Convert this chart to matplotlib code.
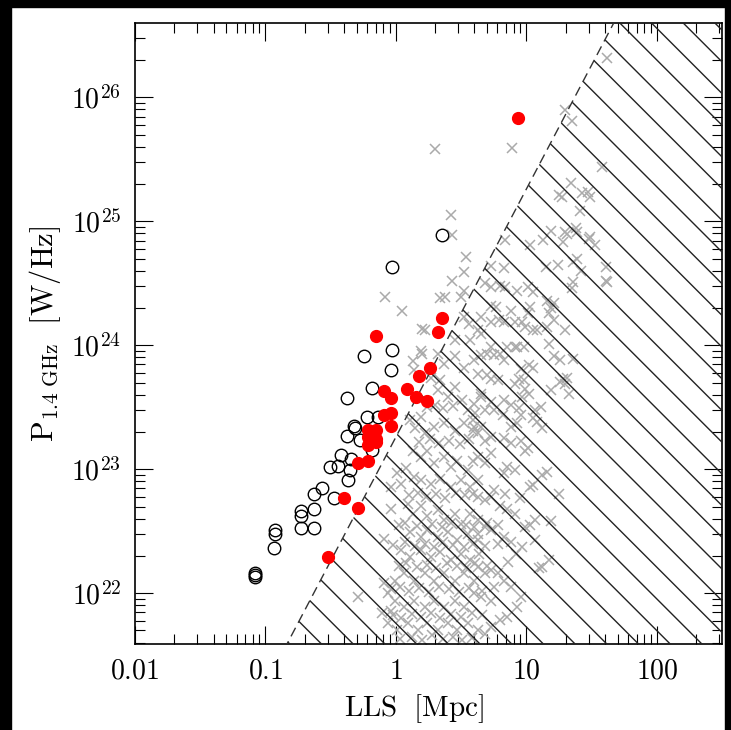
import numpy as np
import matplotlib.pyplot as plt
from matplotlib.patches import Polygon, Rectangle

plt.rcParams['mathtext.fontset'] = 'cm'
plt.rcParams['font.family'] = 'serif'
plt.rcParams['font.serif'] = ['DejaVu Serif']

# radio halos (filled red): LLS [Mpc], P_1.4GHz [W/Hz]
halo_lls = [8.69, 2.24, 2.12, 0.71, 1.82, 1.51, 1.21, 1.42, 1.72, 0.81,
            0.92, 0.81, 0.92, 0.91, 0.61, 0.70, 0.61, 0.70, 0.61, 0.70,
            0.51, 0.61, 0.40, 0.51, 0.30]
halo_p = [6.86e25, 1.67e24, 1.28e24, 1.19e24, 6.59e23, 5.62e23, 4.42e23, 3.83e23, 3.53e23, 4.26e23,
          3.74e23, 2.75e23, 2.86e23, 2.24e23, 2.06e23, 2.06e23, 1.81e23, 1.75e23, 1.56e23, 1.65e23,
          1.12e23, 1.17e23, 5.89e22, 4.86e22, 1.95e22]

# open circles
relic_lls = [2.24, 0.94, 0.93, 0.57, 0.92, 0.66, 0.42, 0.605, 0.73, 0.48,
             0.49, 0.42, 0.53, 0.66, 0.38, 0.45, 0.31, 0.36, 0.445, 0.43,
             0.27, 0.237, 0.337, 0.237, 0.188, 0.188, 0.188, 0.237, 0.118, 0.118,
             0.117, 0.0838, 0.0838, 0.0838]
relic_p = [7.71e24, 4.26e24, 9.2e23, 8.26e23, 6.37e23, 4.54e23, 3.79e23, 2.66e23, 2.66e23, 2.24e23,
           2.14e23, 1.86e23, 1.73e23, 1.42e23, 1.30e23, 1.22e23, 1.04e23, 1.06e23, 9.87e22, 8.15e22,
           7.03e22, 6.29e22, 5.87e22, 4.82e22, 4.58e22, 4.18e22, 3.36e22, 3.36e22, 3.25e22, 3.02e22,
           2.33e22, 1.46e22, 1.40e22, 1.34e22]

# grey crosses, (log10 LLS, log10 P)
cross_log = np.array([
    (1.62, 26.32), (1.30, 25.90), (1.35, 25.81), (0.89, 25.59), (0.30, 25.58), (1.58, 25.44),
    (1.34, 25.31), (1.25, 25.21), (1.27, 25.20), (1.43, 25.23), (1.47, 25.24), (1.49, 25.20),
    (1.41, 25.08), (0.42, 25.05), (0.43, 24.89), (1.19, 24.92), (1.30, 24.91), (1.31, 24.90),
    (1.38, 24.95), (1.39, 24.91), (1.49, 24.87), (1.53, 24.81), (1.48, 24.86), (1.13, 24.85),
    (1.03, 24.81), (0.84, 24.85), (1.28, 24.83), (0.54, 24.71), (0.52, 24.59), (0.43, 24.52),
    (0.73, 24.64), (0.83, 24.62), (1.15, 24.63), (1.24, 24.65), (1.36, 24.67), (1.42, 24.60),
    (1.61, 24.63), (1.39, 24.70), (1.61, 24.52), (1.62, 24.51), (1.36, 24.51), (1.35, 24.46),
    (0.34, 24.38), (0.38, 24.39), (0.50, 24.39), (0.52, 24.44), (-0.08, 24.39), (0.05, 24.28),
    (0.20, 24.13), (0.19, 23.95), (0.68, 24.50), (0.73, 24.47), (0.80, 24.48), (0.84, 24.47),
    (0.93, 24.44), (1.01, 24.47), (1.05, 24.43), (1.16, 24.36), (1.21, 24.34), (1.19, 24.30),
    (1.17, 24.26), (1.03, 24.31), (1.01, 24.26), (0.88, 24.28), (0.73, 24.32), (0.77, 24.31),
    (0.79, 24.20), (0.83, 24.19), (0.91, 24.19), (0.97, 24.19), (0.99, 24.15), (1.05, 24.12),
    (1.08, 24.12), (1.16, 24.15), (1.21, 24.20), (1.30, 24.12), (0.65, 24.23), (0.73, 24.19),
    (0.65, 24.09), (0.63, 24.12), (0.57, 24.04), (0.52, 24.23), (0.56, 24.17), (0.45, 24.04),
    (0.73, 23.99), (0.85, 23.99), (0.91, 23.99), (0.98, 23.99), (0.70, 23.93), (0.80, 23.93),
    (0.22, 24.12),
    (1.17, 24.01), (0.93, 23.99), (1.21, 23.91), (1.26, 23.88), (1.36, 23.89), (1.02, 23.84),
    (1.05, 23.82), (0.96, 23.81), (0.83, 23.88), (0.75, 23.92), (0.65, 23.92), (1.28, 23.73),
    (1.31, 23.74), (1.30, 23.69), (1.26, 23.70), (1.33, 23.61), (1.19, 23.64), (0.94, 23.73),
    (0.98, 23.72), (0.91, 23.69), (0.78, 23.72), (0.73, 23.73), (0.70, 23.76), (0.63, 23.77),
    (0.99, 23.65), (1.02, 23.61), (0.97, 23.58), (0.83, 23.56), (0.73, 23.54), (0.65, 23.58),
    (1.11, 23.50), (1.07, 23.48), (1.05, 23.41), (1.08, 23.38), (1.12, 23.33), (0.96, 23.44),
    (0.93, 23.37), (0.88, 23.34), (0.82, 23.44), (0.75, 23.48), (0.68, 23.48), (0.61, 23.45),
    (1.01, 23.17), (0.99, 23.15), (1.16, 22.98), (1.12, 22.95), (1.25, 22.80), (1.05, 22.87),
    (1.03, 22.86), (0.85, 23.02), (0.91, 22.99), (0.83, 22.97), (0.96, 23.23), (0.88, 23.21),
    (0.83, 23.25), (0.73, 23.26), (0.68, 23.23), (0.63, 23.29), (0.60, 23.34), (0.59, 23.40),
    (1.19, 22.58), (1.07, 22.59), (1.03, 22.55), (0.99, 22.53), (0.91, 22.64), (0.85, 22.68),
    (0.80, 22.70), (1.07, 22.43), (1.17, 22.27), (1.12, 22.21), (1.10, 22.20), (0.97, 22.37),
    (0.92, 22.32), (0.83, 22.45), (0.78, 22.40), (0.73, 22.51), (0.68, 22.53), (0.63, 22.48),
    (0.83, 22.10), (0.88, 22.05), (0.96, 21.97), (0.93, 21.89), (0.78, 22.16), (0.73, 22.19),
    (0.68, 22.16), (0.63, 22.21), (0.85, 21.81), (0.80, 21.78), (0.73, 21.73), (0.68, 21.67),
    (0.63, 21.70), (0.73, 21.94), (0.65, 21.97), (0.60, 22.00), (0.59, 22.80), (0.63, 22.78),
    (0.68, 22.75), (0.73, 22.78), (0.75, 22.83), (0.59, 23.07), (0.63, 23.10), (0.68, 23.05),
    (0.73, 23.13),
    (0.13, 23.87), (0.20, 23.93), (0.14, 23.80), (0.32, 23.93), (0.37, 23.85), (0.45, 23.91),
    (0.52, 23.82), (0.60, 23.88), (0.27, 23.74), (0.34, 23.72), (0.32, 23.64), (0.40, 23.58),
    (0.45, 23.66), (0.51, 23.56), (0.55, 23.48), (0.60, 23.53), (0.65, 23.61), (0.11, 23.40),
    (0.15, 23.33), (0.19, 23.42), (0.22, 23.29), (0.29, 23.34), (0.37, 23.37), (0.45, 23.31),
    (0.52, 23.37), (0.59, 23.31), (0.65, 23.34), (0.01, 22.97), (0.08, 23.01), (0.14, 22.94),
    (-0.04, 22.86), (0.04, 22.88), (0.13, 23.15), (0.19, 23.10), (0.24, 23.15), (0.29, 23.05),
    (0.37, 23.10), (0.42, 23.02), (0.47, 23.07), (0.55, 22.99), (0.19, 22.91), (0.27, 22.88),
    (0.34, 22.92), (0.42, 22.86), (0.50, 22.91), (0.57, 22.86), (0.63, 22.91), (-0.09, 22.44),
    (-0.04, 22.68), (0.09, 22.72), (0.13, 22.64), (0.19, 22.70), (0.24, 22.62), (0.32, 22.67),
    (0.37, 22.59), (0.45, 22.64), (0.50, 22.56), (0.57, 22.64), (0.63, 22.59), (0.11, 22.49),
    (0.19, 22.45), (0.24, 22.51), (0.32, 22.45), (0.40, 22.49), (0.47, 22.43), (0.55, 22.48),
    (0.63, 22.43), (0.04, 22.35), (0.11, 22.29), (0.19, 22.35), (0.27, 22.29), (0.34, 22.33),
    (0.42, 22.27), (0.50, 22.32), (0.57, 22.27), (0.64, 22.32), (-0.29, 21.97), (-0.06, 22.00),
    (-0.01, 22.10), (0.06, 22.16), (0.14, 22.10), (0.22, 22.16), (0.29, 22.10), (0.37, 22.16),
    (0.45, 22.10), (0.52, 22.16), (0.60, 22.10), (-0.01, 21.94), (0.06, 21.89), (0.14, 21.94),
    (0.22, 21.89), (0.29, 21.94), (0.37, 21.89), (0.45, 21.94), (0.52, 21.89), (-0.06, 21.76),
    (0.01, 21.70), (0.09, 21.76), (0.17, 21.70), (0.24, 21.76), (0.32, 21.70), (0.40, 21.76),
    (0.47, 21.70), (0.55, 21.76), (-0.09, 22.08), (-0.11, 21.84), (-0.04, 21.86),
    # dense core, in between the above
    (0.03, 21.63), (0.12, 21.65), (0.20, 21.62), (0.28, 21.66), (0.36, 21.63), (0.44, 21.65),
    (0.51, 21.62), (0.58, 21.64), (-0.02, 21.82), (0.04, 21.80), (0.12, 21.83), (0.19, 21.81),
    (0.27, 21.84), (0.34, 21.80), (0.42, 21.83), (0.50, 21.81), (0.58, 21.84), (0.66, 21.82),
    (-0.04, 22.03), (0.03, 22.05), (0.10, 22.02), (0.18, 22.04), (0.25, 22.01), (0.33, 22.05),
    (0.41, 22.03), (0.48, 22.01), (0.56, 22.04), (0.66, 22.02), (0.75, 22.05), (0.02, 22.22),
    (0.08, 22.24), (0.16, 22.21), (0.24, 22.23), (0.31, 22.20), (0.39, 22.24), (0.47, 22.22),
    (0.54, 22.20), (0.61, 22.24), (0.70, 22.22), (0.86, 22.25), (-0.02, 22.39), (0.07, 22.41),
    (0.15, 22.38), (0.22, 22.40), (0.29, 22.37), (0.36, 22.41), (0.44, 22.39), (0.52, 22.37),
    (0.59, 22.40), (0.68, 22.38), (0.88, 22.41), (0.02, 22.55), (0.07, 22.57), (0.16, 22.54),
    (0.28, 22.56), (0.35, 22.53), (0.42, 22.57), (0.54, 22.55), (0.60, 22.53), (0.70, 22.57),
    (0.78, 22.55), (0.10, 22.79), (0.17, 22.81), (0.23, 22.78), (0.31, 22.80), (0.38, 22.77),
    (0.46, 22.81), (0.53, 22.79), (0.84, 22.80), (0.95, 22.77), (0.18, 23.22), (0.26, 23.24),
    (0.33, 23.21), (0.41, 23.23), (0.49, 23.20), (0.56, 23.24), (0.24, 23.50), (0.30, 23.52),
    (0.36, 23.49), (0.44, 23.51), (0.88, 23.52), (0.94, 23.49),
])

# dashed limit: P = A * LLS^2, log10 A
limit_log_a = 23.26

fig = plt.figure(figsize=(7.31, 7.30), dpi=100)
ax = fig.add_axes([0.1847, 0.1178, 0.803, 0.8507])
ax.set_xscale('log')
ax.set_yscale('log')
ax.set_xlim(0.01, 10**2.5)
ax.set_ylim(10**21.59, 10**26.6)

# hatched region right of the limit
edge_lls = np.logspace(-1.5, 2.5, 100)
edge_p = 10**limit_log_a * edge_lls**2
poly = Polygon(np.column_stack([np.r_[edge_lls, 1e4, 1e4], np.r_[edge_p, edge_p[-1], 1e20]]),
               closed=True, facecolor='none', edgecolor='none')
ax.add_patch(poly)

fw, fh = fig.get_size_inches() * fig.dpi
pos = ax.get_position()
W, H = pos.width * fw, pos.height * fh
step, c0 = 31.7, 376.7
for c in np.arange(c0 % step, W + H, step):
    ln, = ax.plot([c / W, (c - H) / W], [0, 1], transform=ax.transAxes,
                  color='#222222', lw=1.0, zorder=3)
    ln.set_clip_path(poly)

ax.plot(edge_lls, edge_p, ls=(0, (7, 4)), color='#333333', lw=1.0, zorder=3)

ax.plot(10**cross_log[:, 0], 10**cross_log[:, 1], 'x', color='#aaaaaa', ms=7.5, mew=1.1,
        zorder=2, ls='none')
ax.plot(relic_lls, relic_p, 'o', mfc='none', mec='black', ms=9, mew=1.0, ls='none', zorder=4)
ax.plot(halo_lls, halo_p, 'o', color='red', mec='red', ms=8.5, ls='none', zorder=5)

ax.set_xticks([0.01, 0.1, 1, 10, 100], [r'$0.01$', r'$0.1$', r'$1$', r'$10$', r'$100$'])
ax.set_yticks([1e22, 1e23, 1e24, 1e25, 1e26],
              [r'$10^{22}$', r'$10^{23}$', r'$10^{24}$', r'$10^{25}$', r'$10^{26}$'])
ax.tick_params(which='both', direction='in', top=True, right=True, width=0.8)
ax.tick_params(which='major', length=13, labelsize=20, pad=10)
ax.tick_params(which='minor', length=7)
for s in ax.spines.values():
    s.set_linewidth(1.2)

ax.set_xlabel(r'$\mathrm{LLS\ \ [Mpc]}$', fontsize=21)
ax.xaxis.set_label_coords(0.475, -0.078)
ax.set_ylabel(r'$\mathrm{P_{1.4\ GHz}\ \ [W/Hz]}$', fontsize=22, labelpad=6)

for r in [(0, 1 - 7 / 730, 1, 7 / 730), (0, 0, 11 / 731, 1), (725 / 731, 0, 6 / 731, 1)]:
    fig.patches.append(Rectangle(r[:2], r[2], r[3], transform=fig.transFigure,
                                 color='black', zorder=10))

fig.savefig('out.png', dpi=100)
